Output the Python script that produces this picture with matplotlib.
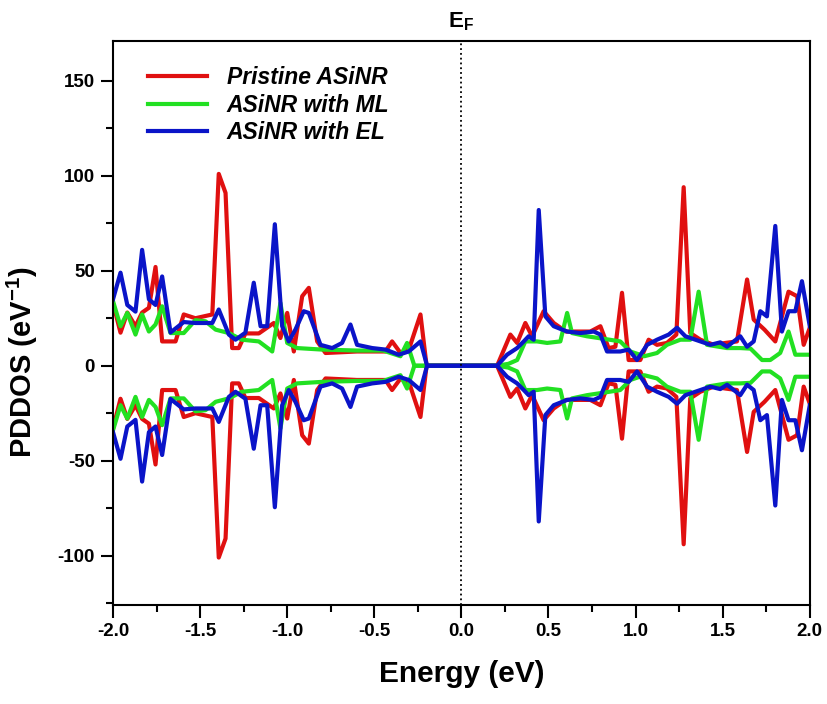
import numpy as np
import matplotlib.pyplot as plt

plt.rcParams['font.family'] = ['Liberation Sans', 'DejaVu Sans']
plt.rcParams['font.weight'] = 'bold'
plt.rcParams['axes.unicode_minus'] = False

# spin-up PDDOS (spin-down is the mirror image)
e_red = [-2.0, -1.957, -1.918, -1.871, -1.833, -1.794, -1.756, -1.718, -1.641, -1.594,
         -1.527, -1.43, -1.393, -1.354, -1.316, -1.278, -1.24, -1.163, -1.077, -1.039,
         -1.0, -0.962, -0.914, -0.876, -0.828, -0.78, -0.6, -0.436, -0.398, -0.35,
         -0.3, -0.235, -0.2, 0.205, 0.281, 0.32, 0.367, 0.406, 0.472, 0.53,
         0.6, 0.74, 0.798, 0.845, 0.884, 0.922, 0.96, 1.027, 1.075, 1.123,
         1.18, 1.234, 1.276, 1.314, 1.372, 1.448, 1.515, 1.582, 1.64, 1.678,
         1.74, 1.802, 1.878, 1.927, 1.965, 2.0]
d_red = [33, 17.4, 28, 20.8, 28, 30.5, 52, 12.8, 12.8, 27,
         25, 27, 101, 91, 9.3, 9.3, 17, 17, 22.5, 14.6,
         27.8, 7.5, 36.6, 41, 12.8, 6.7, 7.5, 7.5, 12.8, 6.8,
         9, 27, 0, 0, 16.4, 12, 22.5, 15.5, 28.7, 22.5,
         18, 18, 20.8, 9.3, 10, 38.4, 3, 3, 13.7, 11,
         12, 16.4, 94, 17.2, 13.7, 11, 12, 12.8, 45.4, 24.3,
         19, 12.8, 39, 36.6, 11, 20]

e_green = [-2.0, -1.957, -1.918, -1.871, -1.833, -1.794, -1.756, -1.718, -1.67, -1.594,
           -1.527, -1.469, -1.411, -1.335, -1.26, -1.163, -1.086, -1.039, -1.0, -0.943,
           -0.8, -0.6, -0.45, -0.35, -0.312, -0.27, 0.205, 0.27, 0.32, 0.367,
           0.434, 0.492, 0.568, 0.607, 0.635, 0.721, 0.83, 0.912, 0.97, 1.05,
           1.123, 1.18, 1.257, 1.314, 1.362, 1.41, 1.525, 1.601, 1.66, 1.726,
           1.773, 1.83, 1.878, 1.917, 2.0]
d_green = [34, 20.8, 27.8, 16.4, 27, 18, 21.7, 31.3, 17.2, 17.2,
           24, 23.4, 19, 17.2, 13.7, 12.8, 7.5, 33, 12, 9.3,
           8.5, 8, 8, 5, 12, 0, 0, 1, 3, 12.8,
           12.8, 12, 12.8, 27.8, 17.2, 15.5, 14, 12.8, 7.5, 5,
           6.7, 11, 13.7, 13.7, 39, 11, 9.3, 9.3, 9, 3,
           3, 6.7, 18, 5.8, 5.8]

e_blue = [-2.0, -1.957, -1.918, -1.871, -1.833, -1.794, -1.756, -1.718, -1.67, -1.594,
          -1.527, -1.43, -1.393, -1.335, -1.297, -1.24, -1.192, -1.153, -1.115, -1.071,
          -1.029, -0.991, -0.953, -0.905, -0.876, -0.809, -0.742, -0.685, -0.637, -0.599,
          -0.512, -0.436, -0.36, -0.302, -0.235, -0.197, 0.205, 0.262, 0.32, 0.358,
          0.386, 0.415, 0.444, 0.482, 0.53, 0.607, 0.683, 0.76, 0.798, 0.836,
          0.912, 0.96, 1.008, 1.066, 1.123, 1.19, 1.238, 1.286, 1.372, 1.429,
          1.486, 1.525, 1.601, 1.64, 1.678, 1.716, 1.754, 1.802, 1.84, 1.878,
          1.917, 1.955, 2.0]
d_blue = [35, 49, 32, 28.5, 61, 35, 32, 47, 17.5, 23,
          22.5, 22.5, 29.6, 16.4, 13.7, 17.4, 43.7, 20.8, 20.8, 74.5,
          20.8, 12.8, 19, 28.7, 27.8, 11, 9.3, 12, 21.7, 11,
          9.3, 8.5, 5.8, 7.5, 12.8, 0, 0, 5.8, 9.3, 12.8,
          15.5, 13.7, 82, 26, 20.8, 18, 17.2, 18, 16.4, 7.5,
          7.5, 8.5, 3, 11, 13.7, 16.4, 20, 15.5, 12.8, 11,
          12.3, 10, 15.5, 10, 12.8, 28.7, 26, 73.6, 18, 28.7,
          28.7, 44.5, 20.8]

series = [
    ('Pristine ASiNR', e_red, d_red, '#e01010'),
    ('ASiNR with ML', e_green, d_green, '#22e022'),
    ('ASiNR with EL', e_blue, d_blue, '#0a14c8'),
]

fig = plt.figure(figsize=(8.28, 7.04), dpi=100)
ax = fig.add_axes([0.1365, 0.1406, 0.8415, 0.8012])

for name, e, d, c in series:
    e = np.array(e)
    d = np.array(d)
    ax.plot(e, d, color=c, lw=3.0, label=name)
    ax.plot(e, -d, color=c, lw=3.0)

ax.axvline(0, color='black', ls=':', lw=1.3)
ax.text(0, 175, r'E$_\mathregular{F}$', ha='center', va='bottom', fontsize=16, fontweight='bold')

ax.set_xlim(-2, 2)
ax.set_ylim(-126, 171)
ax.set_xticks(np.arange(-2, 2.01, 0.5))
ax.set_xticks(np.arange(-2, 2.01, 0.25), minor=True)
ax.set_yticks([-100, -50, 0, 50, 100, 150])
ax.set_yticks(np.arange(-125, 171, 25), minor=True)
ax.tick_params(which='major', direction='out', length=9, width=1.5, labelsize=13.5,
               top=False, right=False, pad=4)
ax.tick_params(which='minor', direction='out', length=5, width=1.5, top=False, right=False)
for s in ax.spines.values():
    s.set_linewidth(1.5)

ax.set_xlabel('Energy (eV)', fontsize=21.5, fontweight='bold', labelpad=14)
ax.set_ylabel(r'PDDOS (eV$^\mathregular{-1}$)', fontsize=21, fontweight='bold')
ax.yaxis.set_label_coords(-0.105, 0.43)

leg = ax.legend(loc='upper left', bbox_to_anchor=(0.017, 0.996), frameon=False,
                prop={'size': 16.5, 'weight': 'bold', 'style': 'italic'},
                handlelength=2.6, handletextpad=0.85, labelspacing=0.2, borderaxespad=0.5,
                borderpad=0.5)

fig.savefig('out.png', dpi=100)
